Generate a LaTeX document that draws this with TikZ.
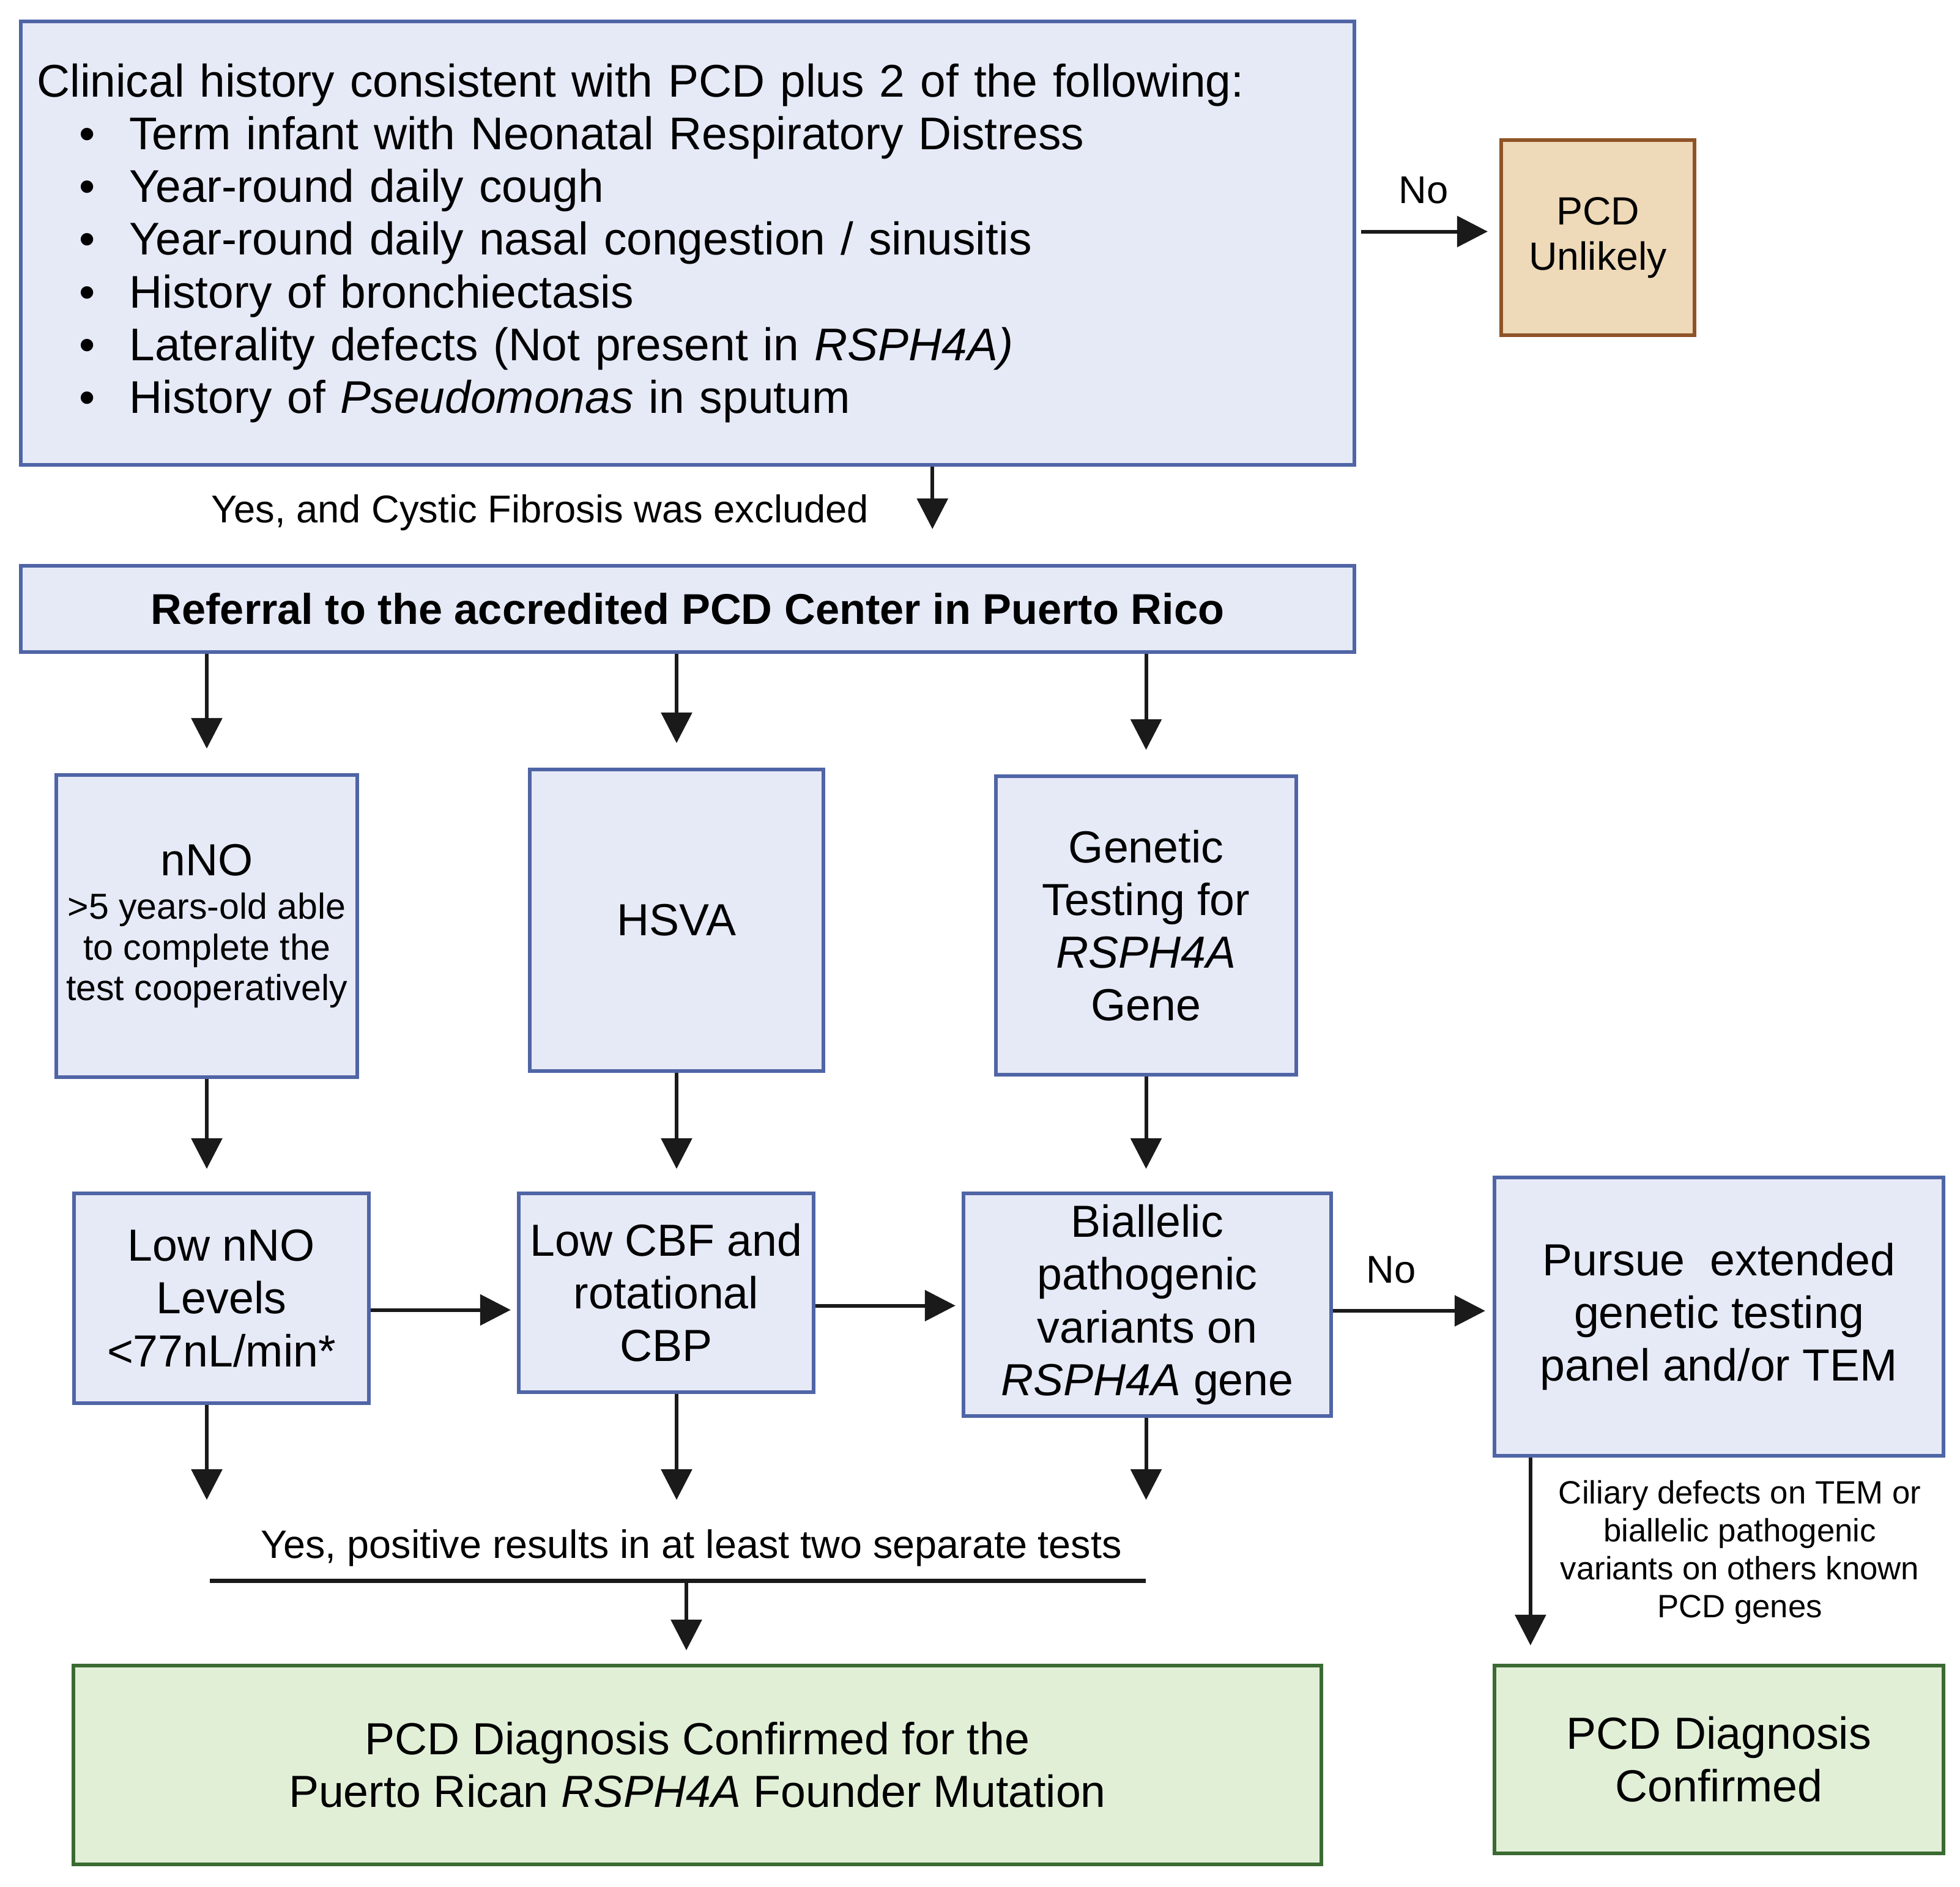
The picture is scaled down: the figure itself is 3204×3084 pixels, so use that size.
\documentclass[tikz,border=0pt]{standalone}
\usepackage{fontspec}
\setmainfont{Liberation Sans}
\usetikzlibrary{arrows.meta}
\definecolor{boxblue}{HTML}{E6EAF7}
\definecolor{lineblue}{HTML}{5065A6}
\definecolor{boxtan}{HTML}{EED9B8}
\definecolor{linetan}{HTML}{8E5428}
\definecolor{boxgreen}{HTML}{E1EFD7}
\definecolor{linegreen}{HTML}{3B6B33}
\definecolor{arrowgray}{HTML}{1A1A1A}
\newcommand{\bul}{\hspace*{0.69cm}\makebox[0.82cm][l]{\textbullet}}
\newcommand{\subtxt}{\fontsize{16.8}{19}\selectfont}

\begin{document}
\begin{tikzpicture}[x=0.01cm, y=-0.01cm,
    box/.style={draw=lineblue, fill=boxblue, line width=0.06cm, align=flush center,
      inner sep=0pt, font=\fontsize{20.9}{24.5}\selectfont},
    tanbox/.style={box, draw=linetan, fill=boxtan, font=\fontsize{18.3}{21}\selectfont},
    greenbox/.style={box, draw=linegreen, fill=boxgreen},
    arr/.style={-{Triangle[length=0.5cm,width=0.5cm]}, line width=0.06cm, draw=arrowgray},
    lbl/.style={inner sep=0pt, align=center, font=\fontsize{18}{21}\selectfont}]
  \useasboundingbox (0,0) rectangle (3204,3084);

  % Clinical history and the No branch
  \node[box, align=left, text width=21.26cm, inner xsep=0.26cm, minimum height=7.25cm,
    font=\fontsize{21.3}{24.5}\selectfont] (clin) at (1124,397.5)
    {Clinical history consistent with PCD plus 2 of the following:\\
     \bul Term infant with Neonatal Respiratory Distress\\
     \bul Year-round daily cough\\
     \bul Year-round daily nasal congestion / sinusitis\\
     \bul History of bronchiectasis\\
     \bul Laterality defects (Not present in \textit{RSPH4A)}\\
     \bul History of \textit{Pseudomonas} in sputum};
  \node[tanbox, text width=3.16cm, minimum height=3.19cm] (unl) at (2612,388.5) {PCD\\Unlikely};
  \draw[arr, shorten <=0.08cm, shorten >=0.19cm] ([yshift=0.1cm]clin.east |- unl.west) -- ([yshift=0.1cm]unl.west);
  \node[lbl] (no1) at (2327,311) {No};

  % Referral
  \node[box, text width=21.78cm, minimum height=1.41cm, font=\fontsize{20}{24}\selectfont\bfseries] (ref) at (1124,995.5)
    {Referral to the accredited PCD Center in Puerto Rico};
  \draw[arr, shorten >=0.57cm] ([xshift=4cm]clin.south) -- ([xshift=4cm]clin.south |- ref.north);
  \node[lbl] (yes1) at (883,838) {Yes, and Cystic Fibrosis was excluded};

  % The three tests
  \node[box, text width=4.92cm, minimum height=4.94cm] (nno) at (338,1514)
    {nNO\par\vspace{1.2pt}{\subtxt >5 years-old able\\to complete the\\test cooperatively\par}};
  \node[box, text width=4.80cm, minimum height=4.93cm] (hsva) at (1106,1504.5) {HSVA};
  \node[box, text width=4.91cm, minimum height=4.88cm] (gen) at (1873.5,1513)
    {Genetic\\Testing for\\\textit{RSPH4A}\\Gene};
  \foreach \n in {nno,hsva,gen}
    \draw[arr, shorten >=0.4cm] (ref.south -| \n.north) -- (\n.north);

  % Results
  \node[box, text width=4.82cm, minimum height=3.43cm] (low) at (362,2122.5) {Low nNO\\Levels\\<77nL/min*};
  \node[box, text width=4.82cm, minimum height=3.25cm] (cbf) at (1089,2113.5) {Low CBF and\\rotational\\CBP};
  \node[box, text width=6.01cm, minimum height=3.64cm] (bia) at (1875.5,2133)
    {Biallelic\\pathogenic\\variants on\\\textit{RSPH4A} gene};
  \node[box, text width=7.34cm, minimum height=4.55cm] (pur) at (2810,2152.5)
    {Pursue~ extended\\genetic testing\\panel and/or TEM};
  \foreach \a/\b in {nno/low, hsva/cbf, gen/bia}
    \draw[arr, shorten >=0.37cm] (\a.south) -- (\a.south |- \b.north);
  \draw[arr, shorten >=0.1cm] ([yshift=-0.19cm]low.east) -- ([yshift=-0.19cm]low.east -| cbf.west);
  \draw[arr, shorten >=0.1cm] ([yshift=-0.21cm]cbf.east) -- ([yshift=-0.21cm]cbf.east -| bia.west);
  \draw[arr, shorten >=0.12cm] ([yshift=-0.1cm]bia.east) -- ([yshift=-0.1cm]bia.east -| pur.west);
  \node[lbl] (no2) at (2274,2076) {No};

  % Yes, at least two tests
  \coordinate (stop) at (0,2452);
  \coordinate (barL) at (343,2584);
  \coordinate (barR) at (1873,2584);
  \coordinate (barM) at (1122,2584);
  \foreach \a/\b in {low/nno, cbf/hsva, bia/gen}
    \draw[arr] (\a.south -| \b.south) -- (stop -| \b.south);
  \node[lbl, font=\fontsize{18.4}{21}\selectfont] (yes2) at (1130,2531)
    {Yes, positive results in at least two separate tests};
  \draw[line width=0.07cm, arrowgray] (barL) -- (barR);

  % Diagnoses
  \node[greenbox, text width=20.38cm, minimum height=3.25cm] (diag) at (1140,2885.5)
    {PCD Diagnosis Confirmed for the\\Puerto Rican \textit{RSPH4A} Founder Mutation};
  \node[greenbox, text width=7.34cm, minimum height=3.07cm] (conf) at (2810,2876.5)
    {PCD Diagnosis\\Confirmed};
  \draw[arr, shorten >=0.22cm] (barM) -- (barM |- diag.north);
  \draw[arr, shorten >=0.3cm] ([xshift=0.62cm]pur.south west) -- ([xshift=0.62cm]conf.north west);
  \node[lbl, font=\fontsize{15}{17.6}\selectfont] (cil) at (2844,2538)
    {Ciliary defects on TEM or\\biallelic pathogenic\\variants on others known\\PCD genes};
\end{tikzpicture}
\end{document}
